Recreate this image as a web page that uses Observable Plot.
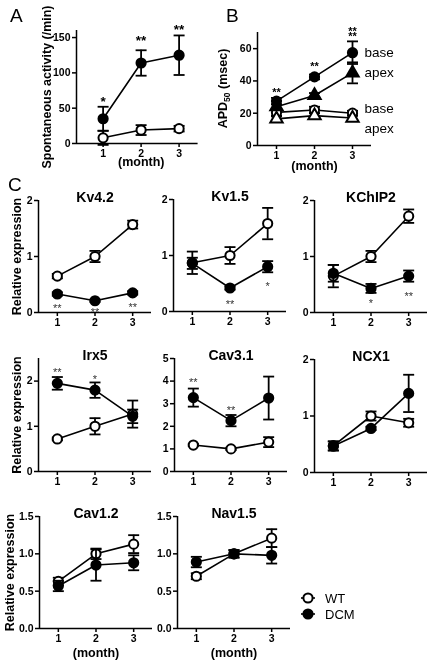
<!DOCTYPE html>
<html><head><meta charset="utf-8">
<script src="https://cdn.jsdelivr.net/npm/d3@7"></script>
<script src="https://cdn.jsdelivr.net/npm/@observablehq/plot@0.6"></script>
<style>
body{margin:0;background:#fff;}
#root{position:relative;width:430px;height:665px;overflow:hidden;font-family:"Liberation Sans",Arial,sans-serif;color:#000;will-change:transform;-webkit-font-smoothing:antialiased;}
.p{position:absolute;}
.letter{position:absolute;font-size:19px;line-height:19px;}
</style></head><body><div id="root"></div>
<script>
// ---------- data ----------
const months = [1, 2, 3];

// A: spontaneous activity (/min)
const spontWT = [8, 19, 21];
const spontWTErr = [10, 7, 4];
const spontDCM = [35, 114, 125];
const spontDCMErr = [17, 18, 28];
const spontStarText = ["*", "**", "**"];
const spontStarY = [64, 151, 167];

// B: APD50 (msec)
const apdBaseDCM = [27.5, 42.5, 57.5];
const apdBaseDCMErr = [2, 1.5, 7];
const apdApexDCM = [24, 31, 45];
const apdApexDCMErr = [1.5, 1.5, 6.5];
const apdBaseWT = [20.5, 22, 20];
const apdBaseWTErr = [2, 2, 1.5];
const apdApexWT = [16.5, 18.5, 17];
const apdApexWTErr = [1.5, 1.5, 1.5];
const apdStarX = [1, 2, 3, 3];
const apdStarY = [34.6, 50.7, 72.4, 69.3];
const apdLabelText = ["base", "apex", "base", "apex"];
const apdLabelY = [57.5, 45, 23, 10.5];

// C: relative expression
const genes = ["Kv4.2", "Kv1.5", "KChIP2", "Irx5", "Cav3.1", "NCX1", "Cav1.2", "Nav1.5"];
const exprWT = {
  "Kv4.2": [0.65, 1.0, 1.57], "Kv1.5": [0.87, 1.0, 1.57], "KChIP2": [0.65, 1.0, 1.72],
  "Irx5": [0.72, 1.0, 1.27], "Cav3.1": [1.17, 1.0, 1.3], "NCX1": [0.47, 1.0, 0.88],
  "Cav1.2": [0.63, 1.0, 1.13], "Nav1.5": [0.7, 1.0, 1.21]
};
const exprWTErr = {
  "Kv4.2": [0.04, 0.1, 0.07], "Kv1.5": [0.2, 0.15, 0.28], "KChIP2": [0.2, 0.1, 0.12],
  "Irx5": [0.03, 0.18, 0.3], "Cav3.1": [0.05, 0.05, 0.22], "NCX1": [0.08, 0.08, 0.07],
  "Cav1.2": [0.05, 0.07, 0.12], "Nav1.5": [0.04, 0.05, 0.12]
};
const exprDCM = {
  "Kv4.2": [0.33, 0.21, 0.35], "Kv1.5": [0.86, 0.42, 0.8], "KChIP2": [0.7, 0.43, 0.65],
  "Irx5": [1.95, 1.8, 1.22], "Cav3.1": [3.27, 2.25, 3.25], "NCX1": [0.47, 0.78, 1.4],
  "Cav1.2": [0.57, 0.85, 0.88], "Nav1.5": [0.89, 1.0, 0.98]
};
const exprDCMErr = {
  "Kv4.2": [0.03, 0.02, 0.03], "Kv1.5": [0.1, 0.03, 0.1], "KChIP2": [0.15, 0.08, 0.1],
  "Irx5": [0.14, 0.17, 0.15], "Cav3.1": [0.4, 0.25, 0.95], "NCX1": [0.08, 0.03, 0.33],
  "Cav1.2": [0.07, 0.21, 0.1], "Nav1.5": [0.07, 0.05, 0.11]
};
const exprStars = {
  "Kv4.2": {x: [1, 2, 3], y: [0.13, 0.06, 0.15], t: ["**", "**", "**"]},
  "Kv1.5": {x: [2, 3], y: [0.18, 0.5], t: ["**", "*"]},
  "KChIP2": {x: [2, 3], y: [0.21, 0.34], t: ["*", "**"]},
  "Irx5": {x: [1, 2], y: [2.27, 2.11], t: ["**", "*"]},
  "Cav3.1": {x: [1, 2], y: [4.07, 2.85], t: ["**", "**"]},
  "NCX1": {x: [], y: [], t: []},
  "Cav1.2": {x: [], y: [], t: []},
  "Nav1.5": {x: [], y: [], t: []}
};
const exprYMax = {"Kv4.2": 2, "Kv1.5": 2, "KChIP2": 2, "Irx5": 2.5, "Cav3.1": 5, "NCX1": 2, "Cav1.2": 1.5, "Nav1.5": 1.5};
const exprYTicks = {
  "Kv4.2": [0, 1, 2], "Kv1.5": [0, 1, 2], "KChIP2": [0, 1, 2], "Irx5": [0, 1, 2],
  "Cav3.1": [0, 1, 2, 3, 4, 5], "NCX1": [0, 1, 2], "Cav1.2": [0, 0.5, 1, 1.5], "Nav1.5": [0, 0.5, 1, 1.5]
};
const legendLabels = ["WT", "DCM"];

// ---------- helpers ----------
const FONT = "Liberation Sans, Arial, sans-serif";
const root = document.getElementById("root");
const rowsOf = (vals, errs) => months.map((m, i) => ({m, v: vals[i], lo: vals[i] - errs[i], hi: vals[i] + errs[i]}));
const capSymbol = {draw(ctx, size) { const r = Math.sqrt(size / Math.PI); ctx.moveTo(-r, 0); ctx.lineTo(r, 0); }};

function seriesMarks(d, fill, symbol, r) {
  return [
    Plot.ruleX(d, {x: "m", y1: "lo", y2: "hi", stroke: "#000", strokeWidth: 1.8}),
    Plot.dot(d, {x: "m", y: "lo", symbol: capSymbol, r: 5.5, stroke: "#000", fill: "none", strokeWidth: 1.8}),
    Plot.dot(d, {x: "m", y: "hi", symbol: capSymbol, r: 5.5, stroke: "#000", fill: "none", strokeWidth: 1.8}),
    Plot.dot(d, {x: "m", y: "v", symbol, r, fill, stroke: "#000", strokeWidth: 2})
  ];
}

function panel(cfg) {
  const mL = 80, mR = 70, mT = 30, mB = 40;
  const marks = [
    Plot.ruleX([cfg.xdom[0]], {stroke: "#000", strokeWidth: 1.5}),
    Plot.ruleY([cfg.ydom[0]], {stroke: "#000", strokeWidth: 1.5}),
    Plot.axisY({ticks: cfg.yticks, tickFormat: cfg.yfmt || (d => String(d)), tickSize: 4, tickPadding: 2,
      strokeWidth: 1.5, fontSize: 10.5, fontWeight: "bold", label: null}),
    Plot.axisX({ticks: months, tickFormat: d => String(d), tickSize: 4, tickPadding: 2,
      strokeWidth: 1.5, fontSize: 10.5, fontWeight: "bold", label: null})
  ];
  for (const s of cfg.series) marks.push(Plot.line(s.d, {x: "m", y: "v", stroke: "#000", strokeWidth: 1.6}));
  for (const s of cfg.series) marks.push(...seriesMarks(s.d, s.fill, s.symbol || "circle", s.r || 4.6));
  if (cfg.stars && cfg.stars.x.length) {
    const fs = cfg.starSize;
    marks.push(Plot.text(cfg.stars.x.map((x, i) => ({x, y: cfg.stars.y[i], t: cfg.stars.t[i]})),
      {x: "x", y: "y", text: "t", fontSize: fs, fontWeight: cfg.starWeight, fill: cfg.starFill, dy: 0.28 * fs}));
  }
  if (cfg.title) marks.push(Plot.text([cfg.title], {frameAnchor: "top", dy: -8, fontSize: 14, fontWeight: "bold"}));
  if (cfg.ylabel) marks.push(Plot.text([cfg.ylabel], {frameAnchor: "left", textAnchor: "middle", rotate: -90,
    dx: -(cfg.left - cfg.ylabelX), fontSize: 12.5, fontWeight: "bold"}));
  if (cfg.xlabel) marks.push(Plot.text([cfg.xlabel], {frameAnchor: "bottom", dy: cfg.xlabelDy, dx: cfg.xlabelDx || 0,
    fontSize: 12.5, fontWeight: "bold"}));
  if (cfg.extra) marks.push(...cfg.extra);
  const chart = Plot.plot({
    width: mL + cfg.w + mR, height: mT + cfg.h + mB,
    marginLeft: mL, marginRight: mR, marginTop: mT, marginBottom: mB,
    style: {background: "none", overflow: "visible", fontFamily: FONT, color: "#000", maxWidth: "none"},
    x: {domain: cfg.xdom}, y: {domain: cfg.ydom},
    marks
  });
  const div = document.createElement("div");
  div.className = "p";
  div.style.left = (cfg.left - mL) + "px";
  div.style.top = (cfg.top - mT) + "px";
  div.style.width = (mL + cfg.w + mR) + "px";
  div.appendChild(chart);
  root.appendChild(div);
  return {chart, mL, mT};
}

// ---------- panel A ----------
panel({
  left: 75.5, top: 30, w: 121.6, h: 113, xdom: [0.3, 3.5], ydom: [0, 160], yticks: [0, 50, 100, 150],
  series: [
    {d: rowsOf(spontWT, spontWTErr), fill: "#fff"},
    {d: rowsOf(spontDCM, spontDCMErr), fill: "#000"}
  ],
  stars: {x: months, y: spontStarY, t: spontStarText}, starSize: 13.5, starWeight: "bold", starFill: "#000",
  ylabel: "Spontaneous activity (/min)", ylabelX: 46,
  xlabel: "(month)", xlabelDy: 23, xlabelDx: 4
});

// ---------- panel B ----------
const bSeries = [
  {d: rowsOf(apdBaseWT, apdBaseWTErr), fill: "#fff", symbol: "circle", r: 4.6},
  {d: rowsOf(apdApexWT, apdApexWTErr), fill: "#fff", symbol: "triangle", r: 4.6},
  {d: rowsOf(apdApexDCM, apdApexDCMErr), fill: "#000", symbol: "triangle", r: 4.6},
  {d: rowsOf(apdBaseDCM, apdBaseDCMErr), fill: "#000", symbol: "circle", r: 4.6}
];
const bp = panel({
  left: 257, top: 32, w: 114, h: 113, xdom: [0.5, 3.5], ydom: [0, 70], yticks: [0, 20, 40, 60],
  series: bSeries,
  stars: {x: apdStarX, y: apdStarY, t: ["**", "**", "**", "**"]}, starSize: 11, starWeight: "bold", starFill: "#000",
  xlabel: "(month)", xlabelDy: 24,
  extra: [Plot.text(apdLabelText.map((t, i) => ({t, y: apdLabelY[i]})),
    {x: () => 3, y: "y", text: "t", textAnchor: "start", dx: 12, fontSize: 13.5})]
});
{
  const t = d3.select(bp.chart).append("text")
    .attr("transform", `translate(${bp.mL - (257 - 223)},${bp.mT + 113 / 2}) rotate(-90)`)
    .attr("text-anchor", "middle").attr("dy", "0.35em")
    .attr("font-size", 12.5).attr("font-weight", "bold").attr("font-family", FONT).attr("fill", "#000");
  t.append("tspan").text("APD");
  t.append("tspan").attr("font-size", 8.5).attr("dy", 3).text("50");
  t.append("tspan").attr("dy", -3).text(" (msec)");
}

// ---------- panel C ----------
const cLayout = {
  "Kv4.2": {left: 38, top: 200, h: 112, ylabelX: 16},
  "Kv1.5": {left: 173, top: 199, h: 112},
  "KChIP2": {left: 314, top: 200, h: 112},
  "Irx5": {left: 38, top: 358, h: 113, ylabelX: 16},
  "Cav3.1": {left: 174, top: 358, h: 113},
  "NCX1": {left: 314, top: 359, h: 113},
  "Cav1.2": {left: 39, top: 516, h: 112, ylabelX: 9, xlabel: true},
  "Nav1.5": {left: 177, top: 516, h: 112, xlabel: true}
};
for (const g of genes) {
  const L = cLayout[g];
  panel({
    left: L.left, top: L.top, w: 113, h: L.h, xdom: [0.5, 3.5], ydom: [0, exprYMax[g]], yticks: exprYTicks[g],
    yfmt: exprYMax[g] === 1.5 ? d3.format(".1f") : (d => String(d)),
    series: [
      {d: rowsOf(exprWT[g], exprWTErr[g]), fill: "#fff"},
      {d: rowsOf(exprDCM[g], exprDCMErr[g]), fill: "#000"}
    ],
    stars: exprStars[g], starSize: 11, starWeight: "normal", starFill: "#333",
    title: g,
    ylabel: L.ylabelX ? "Relative expression" : null, ylabelX: L.ylabelX,
    xlabel: L.xlabel ? "(month)" : null, xlabelDy: 28
  });
}

// ---------- legend ----------
{
  const svg = d3.create("svg").attr("width", 80).attr("height", 40)
    .style("position", "absolute").style("left", "295px").style("top", "588px").style("overflow", "visible");
  legendLabels.forEach((lab, i) => {
    const y = 10 + i * 16;
    svg.append("line").attr("x1", 6).attr("x2", 20).attr("y1", y).attr("y2", y).attr("stroke", "#000").attr("stroke-width", 1.6);
    svg.append("circle").attr("cx", 13).attr("cy", y).attr("r", 4.6).attr("fill", i === 0 ? "#fff" : "#000")
      .attr("stroke", "#000").attr("stroke-width", 2);
    svg.append("text").attr("x", 30).attr("y", y).attr("dy", "0.35em").attr("font-size", 13)
      .attr("font-family", FONT).attr("fill", "#000").text(lab);
  });
  root.appendChild(svg.node());
}

// ---------- panel letters ----------
[["A", 10, 6], ["B", 226, 6], ["C", 8, 175]].forEach(([t, x, y]) => {
  const d = document.createElement("div");
  d.className = "letter"; d.textContent = t;
  d.style.left = x + "px"; d.style.top = y + "px";
  root.appendChild(d);
});
</script></body></html>
